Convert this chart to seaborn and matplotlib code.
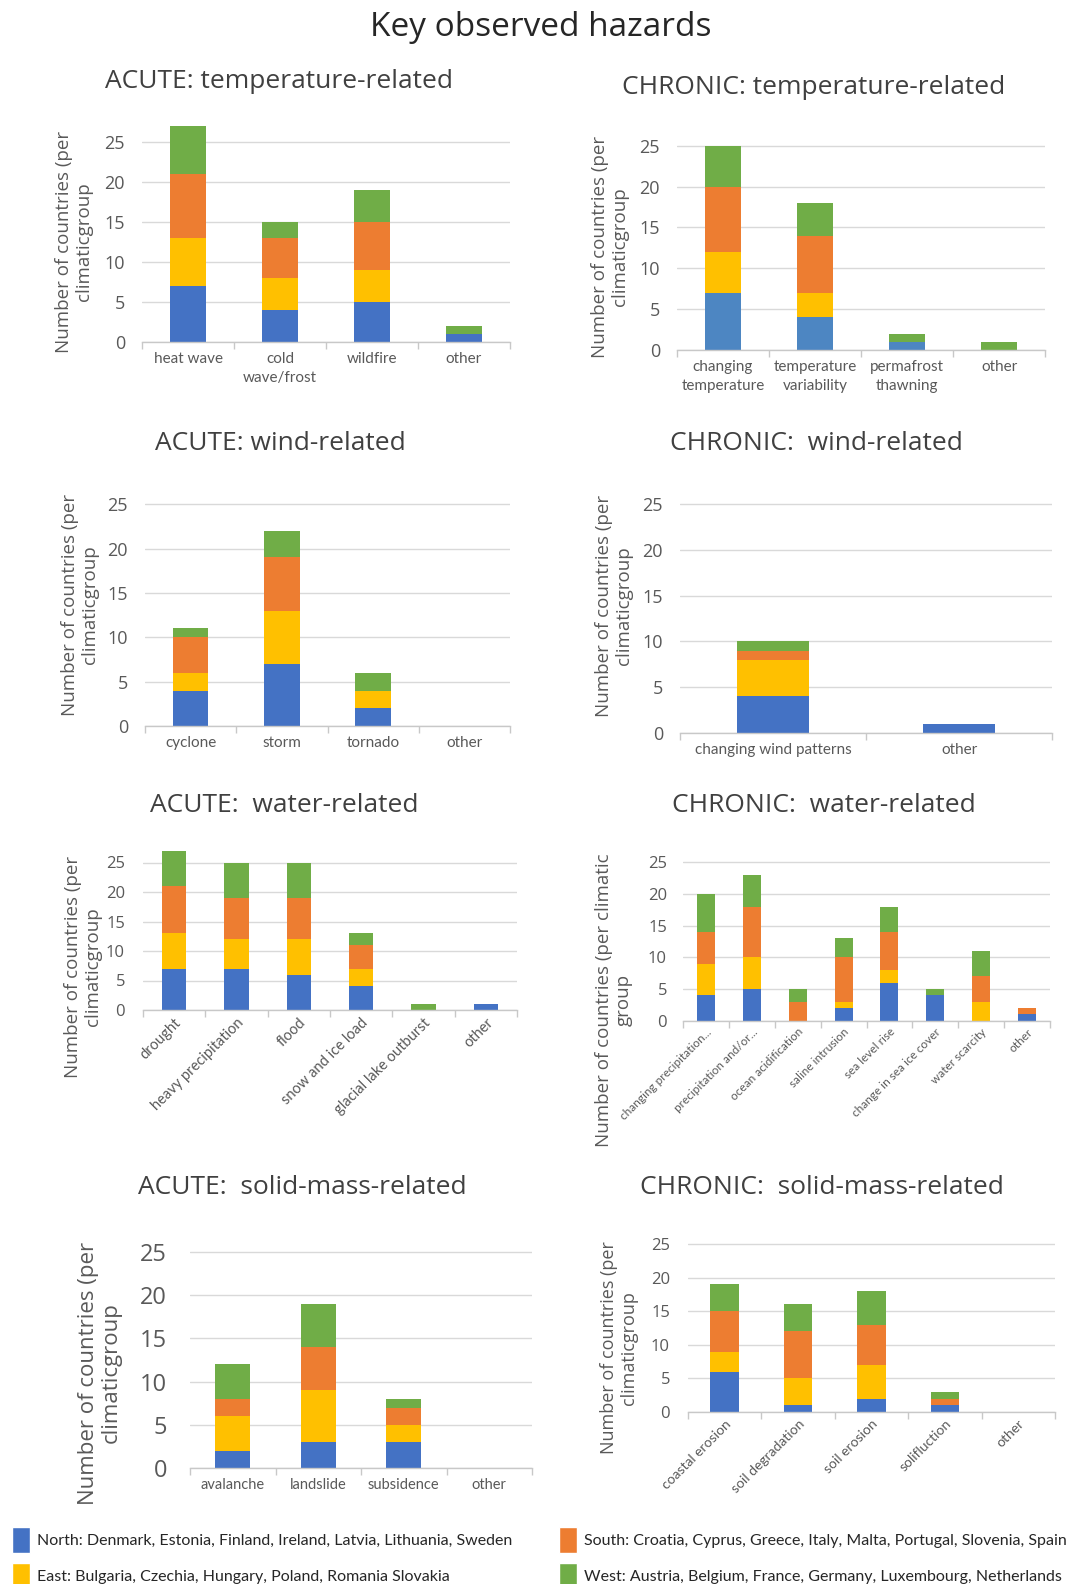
import numpy as np
import pandas as pd
import matplotlib
matplotlib.use("Agg")
import matplotlib.pyplot as plt
import seaborn as sns
from matplotlib.patches import Patch

sns.set_theme(style="white")
plt.rcParams["font.family"] = ["Open Sans", "DejaVu Sans"]

W, H = 1071, 1584
BLUE, YELLOW, ORANGE, GREEN = "#4472C4", "#FFC000", "#ED7D31", "#70AD47"
STEEL = "#4D86C2"
GRID = "#D9D9D9"
AXIS = "#C8C8C8"
TICK = "#595959"
TITLE = "#404040"

# ---------------- data: number of countries per climatic group ----------------
acute_temp_cats = ["heat wave", "cold\nwave/frost", "wildfire", "other"]
acute_temp_north = [7, 4, 5, 1]
acute_temp_east = [6, 4, 4, 0]
acute_temp_south = [8, 5, 6, 0]
acute_temp_west = [6, 2, 4, 1]

chronic_temp_cats = ["changing\ntemperature", "temperature\nvariability", "permafrost\nthawning", "other"]
chronic_temp_north = [7, 4, 1, 0]
chronic_temp_east = [5, 3, 0, 0]
chronic_temp_south = [8, 7, 0, 0]
chronic_temp_west = [5, 4, 1, 1]

acute_wind_cats = ["cyclone", "storm", "tornado", "other"]
acute_wind_north = [4, 7, 2, 0]
acute_wind_east = [2, 6, 2, 0]
acute_wind_south = [4, 6, 0, 0]
acute_wind_west = [1, 3, 2, 0]

chronic_wind_cats = ["changing wind patterns", "other"]
chronic_wind_north = [4, 1]
chronic_wind_east = [4, 0]
chronic_wind_south = [1, 0]
chronic_wind_west = [1, 0]

acute_water_cats = ["drought", "heavy precipitation", "flood", "snow and ice load",
                    "glacial lake outburst", "other"]
acute_water_north = [7, 7, 6, 4, 0, 1]
acute_water_east = [6, 5, 6, 3, 0, 0]
acute_water_south = [8, 7, 7, 4, 0, 0]
acute_water_west = [6, 6, 6, 2, 1, 0]

chronic_water_cats = ["changing precipitation...", "precipitation and/or...", "ocean acidification",
                      "saline intrusion", "sea level rise", "change in sea ice cover",
                      "water scarcity", "other"]
chronic_water_north = [4, 5, 0, 2, 6, 4, 0, 1]
chronic_water_east = [5, 5, 0, 1, 2, 0, 3, 0]
chronic_water_south = [5, 8, 3, 7, 6, 0, 4, 1]
chronic_water_west = [6, 5, 2, 3, 4, 1, 4, 0]

acute_solid_cats = ["avalanche", "landslide", "subsidence", "other"]
acute_solid_north = [2, 3, 3, 0]
acute_solid_east = [4, 6, 2, 0]
acute_solid_south = [2, 5, 2, 0]
acute_solid_west = [4, 5, 1, 0]

chronic_solid_cats = ["coastal erosion", "soil degradation", "soil erosion", "solifluction", "other"]
chronic_solid_north = [6, 1, 2, 1, 0]
chronic_solid_east = [3, 4, 5, 0, 0]
chronic_solid_south = [6, 7, 6, 1, 0]
chronic_solid_west = [4, 4, 5, 1, 0]

group_labels = [
    "North: Denmark, Estonia, Finland, Ireland, Latvia, Lithuania, Sweden",
    "East: Bulgaria, Czechia, Hungary, Poland, Romania Slovakia",
    "South: Croatia, Cyprus, Greece, Italy, Malta, Portugal, Slovenia, Spain",
    "West: Austria, Belgium, France, Germany, Luxembourg, Netherlands",
]

YLAB = "Number of countries (per\nclimaticgroup"

fig = plt.figure(figsize=(W / 100, H / 100), dpi=100)
fig.patch.set_facecolor("white")


def fx(px):
    return px / W


def fy(py):
    return 1 - py / H


def panel(box, cats, groups, ylim_top, px_per_unit, title, title_xy, ylabel, ylabel_xy,
          north_color=BLUE, bw=0.39, ytick_size=13, xtick_size=11, ylabel_size=13.5,
          rotate=False, ypad=17):
    x0, x1, y0 = box
    height_px = ylim_top * px_per_unit
    ax = fig.add_axes([fx(x0), fy(y0), fx(x1 - x0), height_px / H])
    stacks = np.cumsum(np.array(groups, dtype=float), axis=0)
    colors = [north_color, YELLOW, ORANGE, GREEN]
    # draw cumulative totals from the top segment down so each layer covers the one above
    for cum, col in zip(stacks[::-1], colors[::-1]):
        df = pd.DataFrame({"hazard": cats, "count": cum})
        sns.barplot(data=df, x="hazard", y="count", order=cats, color=col,
                    saturation=1, width=bw, errorbar=None, linewidth=0, ax=ax)
    ax.set_xlim(-0.5, len(cats) - 0.5)
    ax.set_ylim(0, ylim_top)
    ax.set_yticks([0, 5, 10, 15, 20, 25])
    ax.yaxis.grid(True, color=GRID, linewidth=1.0)
    ax.set_axisbelow(True)
    ax.set_xlabel("")
    ax.set_ylabel("")
    for s in ["top", "right", "left"]:
        ax.spines[s].set_visible(False)
    ax.spines["bottom"].set_color(AXIS)
    ax.spines["bottom"].set_linewidth(1.0)
    ax.tick_params(axis="y", length=0, labelsize=ytick_size, labelcolor=TICK, pad=ypad * 0.72)
    ax.set_xticks(np.arange(-0.5, len(cats), 1.0), minor=True)
    ax.tick_params(axis="x", which="minor", length=5, width=1.0, color=AXIS, direction="out", bottom=True)
    ax.tick_params(axis="x", which="major", length=0, labelsize=xtick_size, labelcolor=TICK, pad=7)
    ax.set_xticks(range(len(cats)))
    if rotate:
        ax.set_xticklabels(cats, rotation=45, ha="right", rotation_mode="anchor",
                           fontsize=xtick_size, color=TICK, fontfamily=["Lato", "DejaVu Sans"])
        ax.tick_params(axis="x", which="major", pad=4)
    else:
        ax.set_xticklabels(cats, fontsize=xtick_size, color=TICK,
                           fontfamily=["Lato", "DejaVu Sans"], linespacing=1.5)
    fig.text(fx(title_xy[0]), fy(title_xy[1]), title, ha="center", va="center",
             fontsize=19, color=TITLE)
    fig.text(fx(ylabel_xy[0]), fy(ylabel_xy[1]), ylabel, ha="center", va="center",
             rotation=90, fontsize=ylabel_size, color=TICK, multialignment="center",
             linespacing=1.1)
    return ax


fig.text(fx(541), fy(28), "Key observed hazards", ha="center", va="center",
         fontsize=24, color="#262626")

# box = (x_left, x_right, y_zero) in pixels
panel((142, 510, 342), acute_temp_cats,
      [acute_temp_north, acute_temp_east, acute_temp_south, acute_temp_west],
      27.5, 8.01, "ACUTE: temperature-related", (279, 81), YLAB, (74, 242))
panel((677, 1045, 350), chronic_temp_cats,
      [chronic_temp_north, chronic_temp_east, chronic_temp_south, chronic_temp_west],
      26, 8.17, "CHRONIC: temperature-related", (814, 87), YLAB, (610, 247),
      north_color=STEEL)
panel((145, 510, 726), acute_wind_cats,
      [acute_wind_north, acute_wind_east, acute_wind_south, acute_wind_west],
      25.5, 8.87, "ACUTE: wind-related", (280, 443), YLAB, (80, 605))
panel((680, 1052, 733), chronic_wind_cats,
      [chronic_wind_north, chronic_wind_east, chronic_wind_south, chronic_wind_west],
      25.5, 9.16, "CHRONIC:  wind-related", (816, 443), YLAB, (614, 606))
panel((143, 517, 1010), acute_water_cats,
      [acute_water_north, acute_water_east, acute_water_south, acute_water_west],
      28, 5.9, "ACUTE:  water-related", (284, 806), YLAB, (83, 967),
      ytick_size=12, xtick_size=10.5, rotate=True, ypad=18)
panel((683, 1050, 1020.7), chronic_water_cats,
      [chronic_water_north, chronic_water_east, chronic_water_south, chronic_water_west],
      26, 6.34, "CHRONIC:  water-related", (824, 806),
      "Number of countries (per climatic\ngroup", (614, 1000),
      ytick_size=12, xtick_size=8.5, ylabel_size=13.5, rotate=True, ypad=16)
panel((190, 532, 1468), acute_solid_cats,
      [acute_solid_north, acute_solid_east, acute_solid_south, acute_solid_west],
      26, 8.64, "ACUTE:  solid-mass-related", (302, 1188), YLAB, (100, 1373),
      bw=0.41, ytick_size=17, xtick_size=10.5, ylabel_size=16, ypad=23)
panel((688, 1055, 1412), chronic_solid_cats,
      [chronic_solid_north, chronic_solid_east, chronic_solid_south, chronic_solid_west],
      26, 6.72, "CHRONIC:  solid-mass-related", (822, 1188), YLAB, (619, 1348),
      ytick_size=12, xtick_size=10, ylabel_size=13, rotate=True, ypad=18)

# legend of climatic groups, two columns
legend_kw = dict(loc="upper left", frameon=False, handlelength=1.13,
                 handleheight=2.1, handletextpad=0.45, labelspacing=0.62,
                 borderpad=0, borderaxespad=0, prop={"family": ["Lato", "DejaVu Sans"], "size": 11.5})
left_handles = [Patch(facecolor=BLUE, label=group_labels[0]),
                Patch(facecolor=YELLOW, label=group_labels[1])]
right_handles = [Patch(facecolor=ORANGE, label=group_labels[2]),
                 Patch(facecolor=GREEN, label=group_labels[3])]
leg1 = fig.legend(handles=left_handles, bbox_to_anchor=(fx(12), fy(1527)), **legend_kw)
leg2 = fig.legend(handles=right_handles, bbox_to_anchor=(fx(559), fy(1527)), **legend_kw)
for leg in (leg1, leg2):
    for t in leg.get_texts():
        t.set_color("#262626")

fig.savefig("out.png", dpi=100, facecolor="white")
